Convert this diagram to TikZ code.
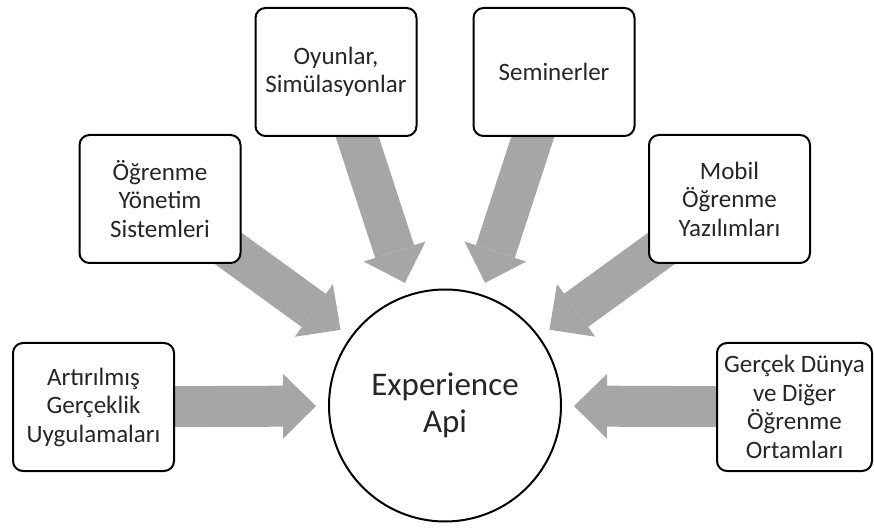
\documentclass[tikz,border=0pt]{standalone}
\usepackage{fontspec}
\setmainfont{Carlito}
\usetikzlibrary{arrows.meta,backgrounds}
\definecolor{arrowgray}{HTML}{A6A6A6}
\definecolor{txt}{HTML}{262626}
\tikzset{
  srcbox/.style={draw=black, line width=2pt, rounded corners=10pt, fill=white,
    minimum width=161pt, minimum height=128pt, align=center, text=txt,
    font=\fontsize{25}{28.5}\selectfont, inner sep=2pt},
  hub/.style={circle, draw=black, line width=2pt, fill=white, minimum size=232pt,
    align=center, text=txt, font=\fontsize{33}{37}\selectfont, inner sep=0pt},
  blockarrow/.style={draw=arrowgray, line width=41pt,
    -{Triangle[length=33pt, width=65pt, line width=0pt]}, shorten >=12pt}
}
\begin{document}
\begin{tikzpicture}[x=1pt, y=1pt]
\useasboundingbox (0,0) rectangle (874,530);
\node[hub] (c) at (445,124.5) {Experience\\Api};
\node[srcbox] (b1) at (93.5,123) {Artırılmış\\Gerçeklik\\Uygulamaları};
\node[srcbox] (b2) at (160,331) {Öğrenme\\Yönetim\\Sistemleri};
\node[srcbox] (b3) at (336,458) {Oyunlar,\\Simülasyonlar};
\node[srcbox] (b4) at (554,458) {Seminerler};
\node[srcbox] (b5) at (729.5,331) {Mobil\\Öğrenme\\Yazılımları};
\node[srcbox, minimum width=155pt] (b6) at (794.5,123) {Gerçek Dünya\\ve Diğer\\Öğrenme\\Ortamları};
\begin{scope}[on background layer]
  \draw[blockarrow] (b1.center) -- (c);
  \draw[blockarrow] (b2.center) -- (c);
  \draw[blockarrow] (b3.center) -- (c);
  \draw[blockarrow] (b4.center) -- (c);
  \draw[blockarrow] (b5.center) -- (c);
  \draw[blockarrow] (b6.center) -- (c);
\end{scope}
\end{tikzpicture}
\end{document}
